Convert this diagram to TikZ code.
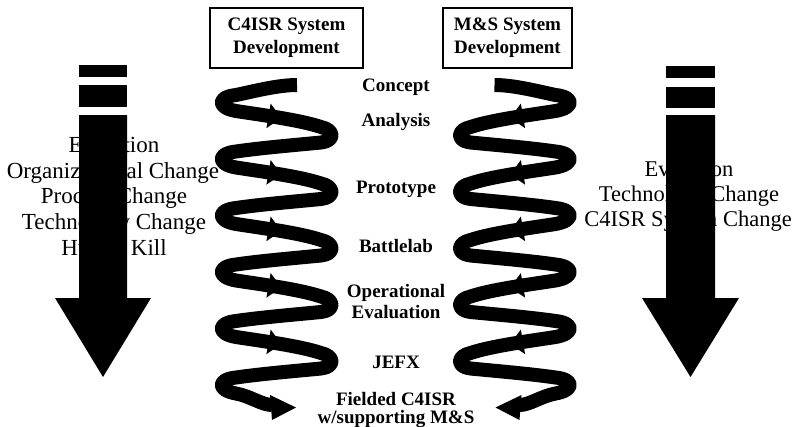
\documentclass[tikz,border=0pt]{standalone}
\usepackage{fontspec}
\setmainfont{Liberation Serif}
\usetikzlibrary{decorations.markings}
\tikzset{
  strand/.style={line width=14pt, line cap=butt, line join=round, draw=black},
  sidetext/.style={font=\fontsize{23}{26}\selectfont, anchor=base, inner sep=0pt, text=black},
  sidetextr/.style={font=\fontsize{22.5}{26}\selectfont, anchor=base, inner sep=0pt, text=black},
  steplabel/.style={font=\fontsize{19}{19.5}\selectfont\bfseries, anchor=base, inner sep=0pt, text=black},
  titlebox/.style={draw=black, line width=1.2pt, minimum height=60pt, inner sep=0pt,
    font=\fontsize{19}{23}\selectfont\bfseries, align=center},
  bigarrow/.style={fill=black},
  midtip/.style={decorate, decoration={markings,
    mark=at position 0.53 with {\fill[black] (0pt,0pt) -- (-13pt,12.5pt) -- (-13pt,-12.5pt) -- cycle;}}}
}
\newcommand\drawcoil{%
  \draw[strand] (297,85) .. controls (278,85) and (255,91) .. (236,95)
    \foreach \Y in {0,56.5,113,169.5,226} {
      .. controls (217,{97+\Y}) and (217,{107.7+\Y}) .. (236,{111+\Y})
      .. controls (262,{115+\Y}) and (300,{120+\Y}) .. (321,{127+\Y})
      .. controls (335,{130+\Y}) and (335,{141+\Y}) .. (321,{142.5+\Y})
      .. controls (295,{145+\Y}) and (260,{148+\Y}) .. (236,{151.5+\Y})
    }
    .. controls (217,379.4) and (217,390.2) .. (236,393.5)
    .. controls (250,396) and (262,405) .. (272,405);
  \foreach \Y in {0,56.5,113,169.5,226} {
    \path[midtip] (236,{111+\Y}) .. controls (262,{115+\Y}) and (300,{120+\Y}) .. (321,{127+\Y});
  }
  \fill[black] (270,395) -- (296,407.5) -- (272,420) -- cycle;
}
\begin{document}
\begin{tikzpicture}[x=1pt,y=-1pt]
\fill[white] (0,0) rectangle (795,426);
\useasboundingbox (0,0) rectangle (795,426);

% left side text
\node[sidetext] (l1) at (114,152) {Evolution};
\node[sidetext] (l2) at (113,178) {Organizational Change};
\node[sidetext] (l3) at (114,203) {Process Change};
\node[sidetext] (l4) at (114,229) {Technology Change};
\node[sidetext] (l5) at (114,255) {Hunter Kill};

% right side text
\node[sidetextr] (r1) at (689,176) {Evolution};
\node[sidetextr] (r2) at (689,201) {Technology Change};
\node[sidetextr] (r3) at (688,226) {C4ISR System Change};

% big arrows
\fill[bigarrow] (79,65) rectangle (127,77);
\fill[bigarrow] (79,85) rectangle (127,107);
\fill[bigarrow] (79,115) -- (127,115) -- (127,298) -- (151,298) -- (103,377) -- (55,298) -- (79,298) -- cycle;

\fill[bigarrow] (666,66) rectangle (715,78);
\fill[bigarrow] (666,87) rectangle (715,108);
\fill[bigarrow] (666,115) -- (715,115) -- (715,298) -- (739,298) -- (690.5,377) -- (642,298) -- (666,298) -- cycle;

% title boxes
\node[titlebox, minimum width=153pt] (c4box) at (286.5,38) {C4ISR System\\Development};
\node[titlebox, minimum width=129pt] (msbox) at (507.5,38) {M\&S System\\Development};

% spirals
\drawcoil
\begin{scope}[shift={(791.5,0)}, xscale=-1]
\drawcoil
\end{scope}

% stage labels
\node[steplabel] (s1) at (396,91) {Concept};
\node[steplabel] (s2) at (396,126) {Analysis};
\node[steplabel] (s3) at (396,193) {Prototype};
\node[steplabel] (s4) at (396,252) {Battlelab};
\node[steplabel] (s5a) at (396,297) {Operational};
\node[steplabel] (s5b) at (396,318) {Evaluation};
\node[steplabel] (s6) at (396,368) {JEFX};
\node[steplabel] (s7a) at (396,405) {Fielded C4ISR};
\node[steplabel] (s7b) at (396,423) {w/supporting M\&S};
\end{tikzpicture}
\end{document}
